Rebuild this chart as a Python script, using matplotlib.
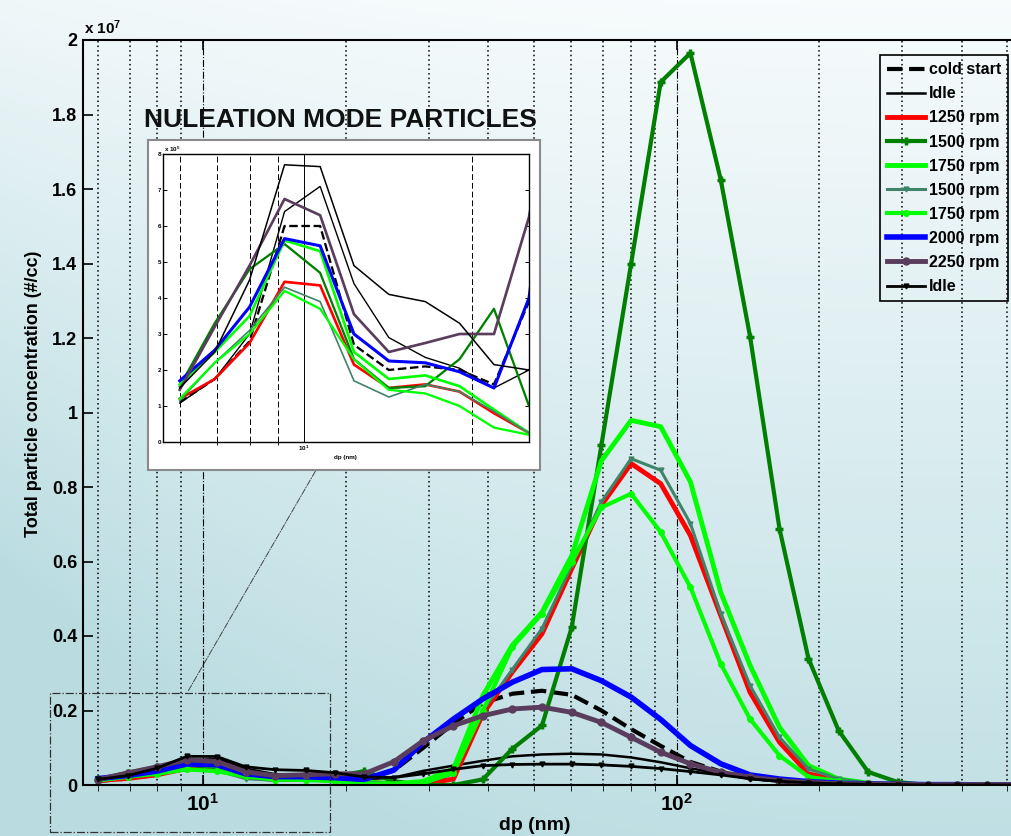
import numpy as np
import matplotlib
matplotlib.use('Agg')
import matplotlib.pyplot as plt
from matplotlib.patches import Rectangle
from matplotlib.ticker import FixedLocator, NullFormatter

plt.rcParams['font.family'] = ['Liberation Sans', 'DejaVu Sans']
plt.rcParams['font.weight'] = 'bold'
plt.rcParams['mathtext.fontset'] = 'custom'
plt.rcParams['mathtext.rm'] = 'Liberation Sans:bold'
plt.rcParams['mathtext.it'] = 'Liberation Sans:bold'
plt.rcParams['mathtext.bf'] = 'Liberation Sans:bold'

# particle diameter channels (nm)
dp = [6.0, 6.93, 8.0, 9.24, 10.7, 12.3, 14.2, 16.5, 19.0, 21.9, 25.3, 29.2, 33.8, 39.0,
      45.0, 52.0, 60.1, 69.4, 80.2, 92.6, 107, 124, 143, 165, 190, 220, 254, 293, 339,
      391, 452, 522, 603]

# concentrations in 1e6 #/cc
cold_start = [0.11, 0.175, 0.28, 0.60, 0.60, 0.27, 0.20, 0.21, 0.20, 0.16, 0.39,
              1.0, 1.65, 2.2, 2.45, 2.53, 2.42, 2.0, 1.5, 1.05, 0.62, 0.36, 0.2, 0.1,
              0.05, 0.03, 0.02, 0.01, 0, 0, 0, 0, 0]
idle_a = [0.108, 0.175, 0.30, 0.64, 0.71, 0.44, 0.29, 0.235, 0.205, 0.15, 0.20,
          0.38, 0.52, 0.65, 0.77, 0.82, 0.84, 0.82, 0.74, 0.61, 0.45, 0.30, 0.16, 0.09,
          0.04, 0.02, 0.01, 0, 0, 0, 0, 0, 0]
rpm1250 = [0.12, 0.175, 0.275, 0.445, 0.435, 0.215, 0.15, 0.16, 0.14, 0.08, 0.025,
           0.03, 0.16, 1.91, 3.03, 4.06, 5.81, 7.51, 8.63, 8.09, 6.70, 4.55, 2.49, 1.15,
           0.30, 0.12, 0.03, 0, 0, 0, 0, 0, 0]
rpm1500a = [0.155, 0.33, 0.48, 0.55, 0.47, 0.23, 0.15, 0.155, 0.23, 0.37, 0.10,
            0.0, 0.0, 0.15, 0.97, 1.6, 4.24, 9.12, 14.0, 18.87, 19.65, 16.25, 12.04, 6.88,
            3.39, 1.46, 0.35, 0.08, 0, 0, 0, 0, 0]
rpm1750a = [0.16, 0.25, 0.35, 0.56, 0.53, 0.25, 0.175, 0.185, 0.155, 0.09, 0.025,
            0.1, 0.43, 2.4, 3.75, 4.64, 6.16, 8.7, 9.79, 9.62, 8.14, 5.17, 3.21, 1.55,
            0.52, 0.16, 0.05, 0, 0, 0, 0, 0, 0]
rpm1500b = [0.115, 0.22, 0.31, 0.43, 0.39, 0.17, 0.125, 0.16, 0.14, 0.085, 0.025,
            0.05, 0.3, 2.0, 3.1, 4.2, 5.9, 7.6, 8.76, 8.45, 7.02, 4.6, 2.67, 1.28,
            0.43, 0.16, 0.05, 0, 0, 0, 0, 0, 0]
rpm1750b = [0.12, 0.22, 0.30, 0.42, 0.37, 0.23, 0.145, 0.135, 0.10, 0.04, 0.02,
            0.05, 0.33, 2.0, 3.7, 4.6, 6.0, 7.45, 7.82, 6.79, 5.31, 3.25, 1.77, 0.79,
            0.22, 0.1, 0.02, 0, 0, 0, 0, 0, 0]
rpm2000 = [0.17, 0.255, 0.375, 0.565, 0.545, 0.30, 0.225, 0.22, 0.195, 0.15, 0.40,
           1.15, 1.77, 2.31, 2.76, 3.10, 3.12, 2.80, 2.36, 1.76, 1.06, 0.57, 0.27, 0.16,
           0.09, 0.05, 0.03, 0.02, 0.01, 0.01, 0, 0, 0]
rpm2250 = [0.145, 0.32, 0.49, 0.675, 0.63, 0.355, 0.25, 0.275, 0.30, 0.30, 0.625,
           1.19, 1.59, 1.86, 2.04, 2.09, 1.95, 1.68, 1.28, 0.88, 0.57, 0.34, 0.21, 0.12,
           0.07, 0.04, 0.03, 0.02, 0.01, 0.01, 0.01, 0.01, 0.01]
idle_b = [0.15, 0.25, 0.45, 0.77, 0.765, 0.49, 0.41, 0.39, 0.33, 0.215, 0.20,
          0.30, 0.42, 0.52, 0.55, 0.56, 0.56, 0.54, 0.50, 0.44, 0.36, 0.27, 0.17, 0.10,
          0.06, 0.03, 0.02, 0.01, 0, 0, 0, 0, 0]

labels = ['cold start', 'Idle', '1250 rpm', '1500 rpm', '1750 rpm', '1500 rpm',
          '1750 rpm', '2000 rpm', '2250 rpm', 'Idle']
series = [cold_start, idle_a, rpm1250, rpm1500a, rpm1750a, rpm1500b, rpm1750b,
          rpm2000, rpm2250, idle_b]
styles = [
    dict(color='k', ls='--', lw=3),
    dict(color='k', lw=1.8),
    dict(color='#ff0000', lw=3.5),
    dict(color='#007f00', lw=3, marker='+', ms=6, mew=2.5),
    dict(color='#00ff00', lw=3.5),
    dict(color='#3f8468', lw=2.2, marker='v', ms=3.5),
    dict(color='#00ff00', lw=3, marker='o', ms=4),
    dict(color='#0000ff', lw=4),
    dict(color='#5a3c5c', lw=3.5, marker='o', ms=5),
    dict(color='k', lw=2, marker='v', ms=3.5),
]

W, H = 1011, 836
fig = plt.figure(figsize=(W / 100, H / 100), dpi=100)

# background gradient of the slide
yy, xx = np.mgrid[0:1:200j, 0:1:200j]
t = np.clip(0.9 * yy + 0.35 * (1 - xx) ** 3 * (0.4 + yy), 0, 1)
top = np.array([0.97, 0.985, 0.99])
bot = np.array([0.73, 0.865, 0.885])
grad = top + (bot - top) * t[..., None]
bg = fig.add_axes([0, 0, 1, 1], zorder=-10)
bg.imshow(grad, aspect='auto', extent=[0, 1, 0, 1], origin='upper')
bg.axis('off')


def fx(px):
    return px / W


def fy(py):
    return 1 - py / H


ax = fig.add_axes([fx(83), fy(785), fx(1046) - fx(83), fy(40) - fy(785)])
ax.patch.set_alpha(0)
ax.set_xscale('log')
lines = []
for ys, lab, st in zip(series, labels, styles):
    ln, = ax.plot(dp, np.array(ys) * 1e6, label=lab, **st)
    lines.append(ln)
ax.set_xlim(5.58, 603)
ax.set_ylim(0, 2e7)
ax.set_yticks(np.arange(0, 2.01e7, 2e6))
ax.set_yticklabels(['0', '0.2', '0.4', '0.6', '0.8', '1', '1.2', '1.4', '1.6', '1.8', '2'])
ax.xaxis.set_major_locator(FixedLocator([10, 100]))
ax.set_xticklabels(['$10^{1}$', '$10^{2}$'])
minors = [6, 7, 8, 9, 20, 30, 40, 50, 60, 70, 80, 90, 200, 300, 400, 500]
ax.xaxis.set_minor_locator(FixedLocator(minors))
ax.xaxis.set_minor_formatter(NullFormatter())
ax.tick_params(direction='in', top=True, right=True, width=1.2)
ax.tick_params(axis='y', length=7, labelsize=13, pad=4)
ax.tick_params(axis='x', which='major', length=7, labelsize=15, pad=6)
ax.tick_params(axis='x', which='minor', length=4)
for sp in ax.spines.values():
    sp.set_linewidth(1.5)
for v in minors:
    ax.axvline(v, color='k', ls=(0, (1, 2)), lw=1.1, zorder=0)
for v in [10, 100]:
    ax.axvline(v, color='k', ls='-.', lw=0.8, zorder=0)
fig.text(fx(34), fy(394), 'Total particle concentration (#/cc)', fontsize=13,
         fontweight='bold', rotation=90, ha='center', va='center')
fig.text(fx(535), fy(817), 'dp (nm)', fontsize=14, fontweight='bold', ha='center', va='top')
fig.text(fx(84), fy(37), r'x 10$^{7}$', fontsize=11, fontweight='bold', ha='left', va='bottom')

leg = ax.legend(handles=lines, loc='upper right', bbox_to_anchor=(fx(1008), fy(55)),
                bbox_transform=fig.transFigure, handlelength=2.4,
                handletextpad=0.2, labelspacing=0.57, borderpad=0.45, borderaxespad=0,
                fancybox=False, edgecolor='k', facecolor='none', framealpha=1,
                prop=dict(weight='bold', size=11.5))
leg.get_frame().set_linewidth(1.2)

# zoom box around nucleation mode and arrow to the inset
fig.patches.append(Rectangle((fx(50), fy(832)), fx(330) - fx(50), fy(693) - fy(832),
                             transform=fig.transFigure, fill=False, ls='-.', lw=0.9,
                             edgecolor='#333333'))
fig.patches.append(Rectangle((fx(148), fy(470)), fx(540) - fx(148), fy(140) - fy(470),
                             transform=fig.transFigure, facecolor='white', lw=1.5,
                             edgecolor='#8a8a8a', zorder=1))
ax.annotate('', xy=(fx(323), fy(458)), xytext=(fx(187), fy(693)),
            xycoords='figure fraction', textcoords='figure fraction',
            arrowprops=dict(arrowstyle='-|>', ls='-.', lw=0.7, color='#444444',
                            mutation_scale=12))

fig.text(fx(340), fy(120), 'NULEATION MODE PARTICLES', fontsize=19, fontweight='bold',
         ha='center', va='center', color='#111111')

# inset: same data, nucleation range
ins = fig.add_axes([fx(163), fy(442), fx(529) - fx(163), fy(154) - fy(442)], zorder=3)
ins.set_xscale('log')
for ys, st in zip(series, styles):
    s = {k: v for k, v in st.items() if k not in ('marker', 'ms', 'mew')}
    s['lw'] = max(1.0, st['lw'] * 0.55)
    ins.plot(dp, np.array(ys) * 1e6, **s)
ins.set_xlim(5.6, 25.3)
ins.set_ylim(0, 8e5)
ins.set_yticks(np.arange(0, 8.1e5, 1e5))
ins.set_yticklabels([str(i) for i in range(9)])
ins.xaxis.set_major_locator(FixedLocator([10]))
ins.set_xticklabels(['$10^{1}$'])
ins.xaxis.set_minor_locator(FixedLocator([6, 7, 8, 9, 20]))
ins.xaxis.set_minor_formatter(NullFormatter())
ins.tick_params(direction='in', labelsize=4.5, length=3, width=0.7, pad=1.5, top=True, right=True)
for v in [6, 7, 8, 9, 20]:
    ins.axvline(v, color='k', ls=(0, (6, 3)), lw=0.7, zorder=0)
ins.axvline(10, color='k', lw=0.7, zorder=0)
for sp in ins.spines.values():
    sp.set_linewidth(1.0)
fig.text(fx(345), fy(458), 'dp (nm)', fontsize=4.5, fontweight='bold', ha='center', va='center')
fig.text(fx(164), fy(154), r'x 10$^{5}$', fontsize=4.5, fontweight='bold', ha='left', va='bottom')

fig.savefig('out.png', dpi=100)
